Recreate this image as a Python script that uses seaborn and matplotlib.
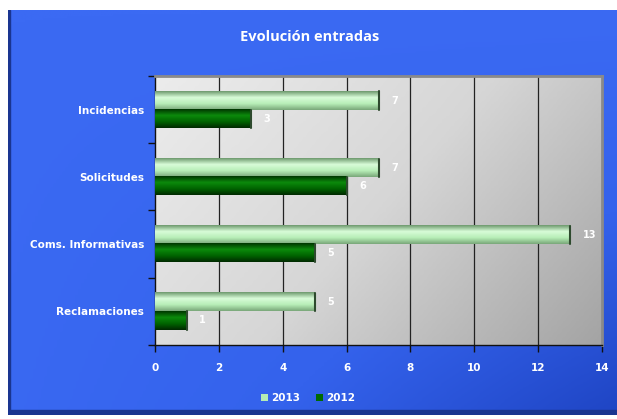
import numpy as np
import pandas as pd
import matplotlib
matplotlib.use("Agg")
import matplotlib.pyplot as plt
from matplotlib.colors import LinearSegmentedColormap
from matplotlib.patches import Patch
import seaborn as sns

categories = ["Incidencias", "Solicitudes", "Coms. Informativas", "Reclamaciones"]
years = ["2013", "2012"]
values_2013 = [7, 7, 13, 5]
values_2012 = [3, 6, 5, 1]
x_ticks = [0, 2, 4, 6, 8, 10, 12, 14]
title = "Evolución entradas"

df = pd.DataFrame({
    "categoria": categories * 2,
    "año": [years[0]] * len(categories) + [years[1]] * len(categories),
    "valor": values_2013 + values_2012,
})

sns.set_theme(style="white")
plt.rcParams["font.family"] = ["DejaVu Sans"]

W, H = 617, 419
fig = plt.figure(figsize=(W / 100, H / 100), dpi=100)
fig.patch.set_facecolor("white")

# blue panel behind everything, darkening toward the lower right
bg = fig.add_axes([8 / W, 4 / H, 1 - 8 / W, 1 - 14 / H], zorder=-10)
yy, xx = np.mgrid[0:1:200j, 0:1:200j]
t = 0.85 * xx * yy + 0.1 * yy
blue = LinearSegmentedColormap.from_list("b", ["#3b6af3", "#3462ec", "#1f45c4"])
bg.imshow(t, cmap=blue, aspect="auto", extent=[0, 1, 0, 1], origin="upper", vmin=0, vmax=0.95)
bg.axis("off")
bg.add_patch(plt.Rectangle((0, 0), 1, 0.012, transform=bg.transAxes, color="#1a3590"))
bg.add_patch(plt.Rectangle((0, 0), 0.003, 1, transform=bg.transAxes, color="#1a3590"))

ax = fig.add_axes([155 / W, 1 - 345 / H, 447 / W, 269 / H])
ax.set_facecolor("none")

palette = {"2013": "#b4ecb4", "2012": "#006a00"}
sns.barplot(data=df, y="categoria", x="valor", hue="año", hue_order=years,
            order=categories, orient="h", palette=palette, width=0.54,
            ax=ax, legend=False, saturation=1, edgecolor="none", zorder=3)

ax.set_xlim(0, 14)
ax.set_ylim(3.5, -0.5)

# plot-area gradient
g = LinearSegmentedColormap.from_list("g", ["#ececec", "#d6d6d6", "#a4a4a4"])
gy, gx = np.mgrid[0:1:100j, 0:1:100j]
ax.imshow(0.35 * gy + 0.65 * gx, cmap=g, aspect="auto",
          extent=[0, 14, 3.5, -0.5], zorder=0)

# cylinder shading on each bar
shade_light = LinearSegmentedColormap.from_list("sl", ["#6f9a6f", "#d8fcd8", "#b8eeb8", "#7aa87a"])
shade_dark = LinearSegmentedColormap.from_list("sd", ["#003800", "#0c8a0c", "#006400", "#002a00"])
for p in ax.patches:
    x0, y0 = p.get_x(), p.get_y()
    w, h = p.get_width(), p.get_height()
    if w <= 0:
        continue
    cmap = shade_light if p.get_facecolor()[1] > 0.7 else shade_dark
    grad = np.linspace(0, 1, 50).reshape(-1, 1)
    ax.imshow(grad, cmap=cmap, aspect="auto", extent=[x0, x0 + w, y0 + h, y0],
              zorder=4, clip_path=p, clip_on=True)
    ax.plot([x0 + w, x0 + w], [y0, y0 + h], color="#2e4a2e", lw=1.5, zorder=5)

for c in ax.containers:
    ax.bar_label(c, padding=9, color="white", fontweight="bold", fontsize=7)

# grid
for v in x_ticks[1:-1]:
    ax.axvline(v, color="#222222", lw=0.9, zorder=1)

ax.set_xticks(x_ticks)
ax.set_xticklabels([str(v) for v in x_ticks])
ax.set_yticks(range(len(categories)))
ax.set_yticklabels(categories)
ax.set_yticks(np.arange(-0.5, len(categories), 1), minor=True)
ax.tick_params(axis="y", which="major", length=0, pad=8, labelsize=7.5, labelcolor="white")
ax.tick_params(axis="y", which="minor", length=5, width=1, color="#111111", direction="out", left=True)
ax.tick_params(axis="x", which="major", length=5, width=1, color="#111111", direction="out",
               bottom=True, pad=8, labelsize=7.5, labelcolor="white")
for lbl in ax.get_xticklabels() + ax.get_yticklabels():
    lbl.set_fontweight("bold")

ax.set_xlabel("")
ax.set_ylabel("")
for s in ["top", "right"]:
    ax.spines[s].set_color("#8a8a8a")
    ax.spines[s].set_linewidth(2)
for s in ["left", "bottom"]:
    ax.spines[s].set_color("#111111")
    ax.spines[s].set_linewidth(1)

fig.text(310 / W, 1 - 37 / H, title, color="white", fontsize=10.5,
         fontweight="bold", ha="center", va="center", family=["Open Sans", "DejaVu Sans"])

# legend
handles = [Patch(facecolor=palette[y], edgecolor="none") for y in years]
leg = fig.legend(handles, years, loc="center", bbox_to_anchor=(308 / W, 1 - 398 / H),
                 ncol=2, frameon=False, handlelength=0.6, handleheight=0.6,
                 handletextpad=0.3, columnspacing=1.6, fontsize=7.5)
for txt in leg.get_texts():
    txt.set_color("white")
    txt.set_fontweight("bold")

fig.savefig("out.png", dpi=100)
